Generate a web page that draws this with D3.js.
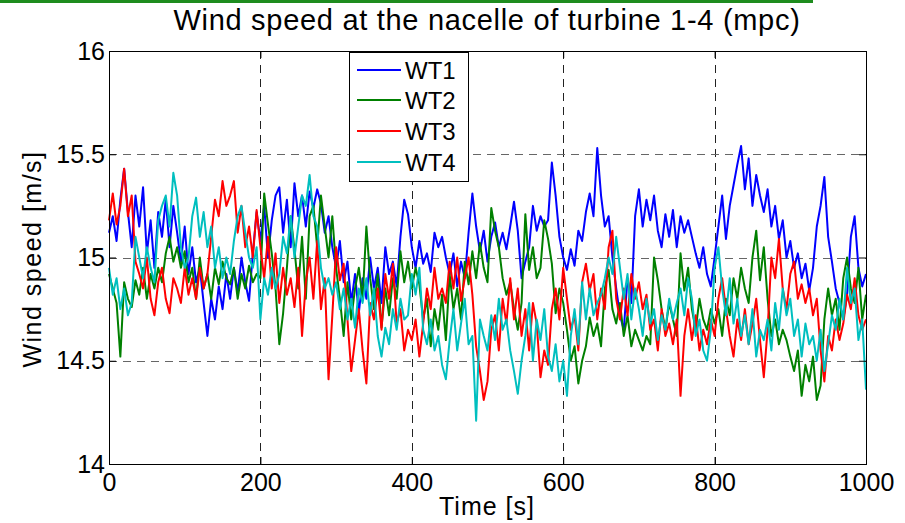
<!DOCTYPE html>
<html>
<head>
<meta charset="utf-8">
<script src="https://cdn.jsdelivr.net/npm/d3@7"></script>
<style>
  body { margin: 0; background: #fff; }
  svg { display: block; font-family: "Liberation Sans", Arial, sans-serif; }
</style>
</head>
<body>
<div id="chart"></div>
<script>
// time axis, 5 s steps
const STEP = 5;
const seriesNames = ['WT1', 'WT2', 'WT3', 'WT4'];
const seriesColors = ['#0000ff', '#008000', '#ff0000', '#00bfbf'];
const xTicks = [0, 200, 400, 600, 800, 1000];
const yTicks = [14, 14.5, 15, 15.5, 16];

const wt1 = [
  15.12, 15.20, 15.08, 15.28, 15.43, 15.22, 15.05, 15.30, 15.15, 15.34,
  15.02, 15.18, 14.95, 15.22, 15.10, 15.28, 15.05, 15.25, 15.12, 14.98,
  15.15, 14.92, 15.05, 14.88, 14.95, 14.78, 14.62, 14.80, 14.70, 14.86,
  14.75, 14.92, 14.80, 14.95, 14.83, 15.00, 14.88, 14.79, 15.02, 15.22,
  15.08, 15.25, 15.00, 15.18, 15.30, 15.34, 15.12, 15.28, 15.05, 15.36,
  15.20, 15.30, 15.15, 15.32, 15.24, 15.33, 15.26, 15.12, 15.20, 15.05,
  14.95, 15.08, 14.88, 14.98, 14.78, 14.92, 14.73, 14.90, 14.80, 15.00,
  14.85, 14.95, 14.78, 15.05, 14.92, 14.98, 14.86, 15.10, 15.28, 15.21,
  15.05, 14.95, 15.08, 14.97, 15.02, 14.93, 15.12, 15.05, 15.10, 15.00,
  14.92, 15.02, 14.86, 14.98, 14.90, 15.12, 15.31, 15.15, 15.03, 15.13,
  14.98, 15.10, 15.17, 15.05, 15.12, 15.04, 15.15, 15.27, 15.13, 14.90,
  14.98, 15.05, 15.25, 15.13, 15.20, 15.15, 15.18, 15.46, 15.30, 15.10,
  15.00, 14.94, 15.04, 14.96, 15.13, 15.08, 15.22, 15.31, 15.20, 15.53,
  15.30, 15.15, 15.20, 15.00, 14.85, 14.72, 14.65, 14.90, 14.78, 15.20,
  15.33, 15.15, 15.28, 15.18, 15.30, 15.13, 15.05, 15.21, 15.10, 15.23,
  15.05, 15.20, 15.12, 15.18, 15.10, 15.02, 14.95, 15.05, 14.92, 14.86,
  15.00, 15.15, 15.30, 15.09, 15.25, 15.35, 15.45, 15.54, 15.33, 15.48,
  15.25, 15.40, 15.30, 15.22, 15.33, 15.15, 15.25, 15.09, 15.18, 15.00,
  15.08, 14.95, 15.02, 14.90, 14.97, 14.84, 14.95, 15.15, 15.25, 15.39,
  15.10, 14.98, 14.85, 14.78, 14.70, 14.82, 15.10, 15.20, 14.95, 14.86,
  14.92
];

const wt2 = [
  14.92, 14.85, 14.78, 14.52, 14.88, 14.80, 14.76, 14.89, 14.82, 14.95,
  14.80, 14.92, 14.85, 14.95, 14.88, 15.02, 15.10, 14.98, 15.05, 14.95,
  15.03, 14.88, 14.95, 14.80, 15.00, 14.85, 14.92, 14.80, 14.95, 14.87,
  14.98, 14.90, 14.87, 14.95, 14.80, 14.92, 14.85, 14.96, 14.88, 14.92,
  14.90, 15.31, 15.16, 15.02, 14.85, 14.58, 14.73, 14.95, 15.20, 15.04,
  14.85, 15.10, 14.80, 15.20, 15.25, 15.05, 15.30, 15.15, 15.00, 15.20,
  14.95, 14.80, 14.62, 14.88, 14.70, 14.85, 14.95, 14.80, 15.15, 14.90,
  14.75, 14.92, 14.66, 14.85, 14.72, 14.90, 14.80, 15.03, 14.88, 14.98,
  14.85, 14.95, 14.87, 14.70, 14.80, 14.57, 14.75, 14.65, 14.82, 14.60,
  14.92, 14.75, 14.85, 14.70, 14.98, 14.87, 15.03, 14.90, 15.07, 14.95,
  14.88, 15.24, 15.13, 15.05, 14.90, 14.82, 14.88, 14.75, 14.65, 14.78,
  15.21, 14.94, 15.05, 14.90, 14.95, 15.18, 15.09, 14.97, 14.73, 14.85,
  14.78, 14.65, 14.50, 14.57, 14.39, 14.50, 14.57, 14.71, 14.62, 14.68,
  14.57, 14.85, 14.94, 14.75, 14.68, 14.78, 14.62, 14.72, 14.57, 14.65,
  14.60, 14.55, 14.62, 14.58, 15.00, 14.89, 14.75, 14.65, 14.78, 14.70,
  14.62, 15.02, 14.84, 14.95, 14.75, 14.65, 14.80, 14.70, 14.65, 14.75,
  14.68, 14.75, 14.62, 14.80, 14.72, 14.90, 14.80, 14.95, 14.85, 14.78,
  15.00, 15.13, 14.89, 15.05, 14.80, 14.62, 14.70, 14.58, 14.65, 14.60,
  14.52, 14.45, 14.55, 14.33, 14.48, 14.40, 14.52, 14.31, 14.38, 14.70,
  14.85, 14.72, 14.80, 14.65, 14.90, 15.00, 14.85, 14.78, 14.95, 14.70,
  14.82
];

const wt3 = [
  15.18, 15.31, 15.16, 15.25, 15.43, 15.20, 15.30, 14.98, 14.92, 14.85,
  15.00, 14.80, 14.72, 14.88, 14.95, 14.80, 14.73, 14.90, 14.85, 14.78,
  14.95, 14.82, 14.90, 14.80, 14.95, 14.85, 14.92, 15.10, 15.28, 15.20,
  15.37, 15.25, 15.30, 15.37, 15.12, 15.25, 15.05, 15.15, 15.00, 15.23,
  15.05, 14.90, 15.10, 14.85, 15.02, 14.78, 14.95, 14.82, 14.90, 14.76,
  14.95, 14.62, 14.88, 15.00, 14.80, 15.08, 14.75, 14.90, 14.41, 14.72,
  15.05, 14.89, 14.97, 14.70, 14.45, 14.60, 14.75, 14.55, 14.39, 14.78,
  14.70, 14.85, 14.65, 14.92, 14.80, 14.97, 14.68, 14.75, 14.55, 14.65,
  14.60, 14.70, 14.52, 14.68, 14.85, 14.75, 14.95, 14.80, 14.85, 14.78,
  14.98, 14.85, 15.00, 14.79, 14.90, 15.00, 14.82, 14.57, 14.45, 14.31,
  14.40, 14.65, 14.72, 14.55, 14.80, 14.68, 14.90, 14.70, 14.85, 14.62,
  14.75, 14.55, 14.78, 14.68, 14.42, 14.55, 14.48, 14.75, 14.85, 14.70,
  14.95, 14.80, 14.65, 14.72, 14.55, 14.88, 14.97, 14.84, 14.92, 14.70,
  14.85, 14.75, 15.05, 15.13, 14.80, 14.70, 14.85, 14.72, 14.92, 14.80,
  14.88, 14.75, 14.82, 14.65, 14.70, 14.55, 14.75, 14.62, 14.68, 14.58,
  14.70, 14.33, 14.62, 14.75, 14.60, 14.72, 14.55, 14.65, 14.58, 14.70,
  14.62, 14.80, 14.90, 14.75, 14.62, 14.52, 14.70, 14.60, 14.75, 14.58,
  14.68, 14.80, 14.60, 14.42, 14.65, 15.00, 14.90, 15.09, 14.85, 14.75,
  14.92, 14.98, 14.80, 14.87, 14.78, 14.85, 14.72, 14.80, 14.55, 14.40,
  14.62, 14.55, 14.70, 14.60, 14.68, 14.82, 14.75, 14.90, 14.72, 14.65,
  14.70
];

const wt4 = [
  14.95, 14.82, 14.90, 14.75, 14.85, 14.72, 14.78, 15.10, 15.00, 14.90,
  15.05, 14.95, 14.88, 15.18, 15.25, 15.30, 15.15, 15.41, 15.30, 15.05,
  14.95, 15.00, 15.20, 15.29, 15.10, 15.22, 15.05, 15.15, 14.95, 15.05,
  14.90, 15.00, 14.92, 15.08, 15.20, 15.25, 15.12, 15.00, 14.95, 15.05,
  14.70, 14.90, 14.82, 14.95, 14.85, 14.92, 15.10, 15.02, 15.20, 15.00,
  15.15, 15.30, 15.25, 15.40, 15.20, 15.15, 14.95, 14.85, 14.90, 14.82,
  14.88, 14.75, 14.85, 14.70, 14.80, 14.66, 14.85, 14.78, 14.90, 14.72,
  14.85, 14.62, 14.52, 14.66, 14.58, 14.75, 14.65, 14.80, 14.70, 14.72,
  14.92, 14.82, 14.95, 14.65, 14.58, 14.70, 14.55, 14.62, 14.48, 14.41,
  14.60, 14.75, 14.55, 14.68, 14.80, 14.58, 14.62, 14.21, 14.70, 14.62,
  14.55, 14.72, 14.60, 14.80, 14.65, 14.70, 14.55, 14.45, 14.34, 14.50,
  14.62, 14.78, 14.50, 14.70, 14.60, 14.75, 14.52, 14.45, 14.58, 14.40,
  14.50, 14.33, 14.62, 14.75, 14.58, 14.88, 14.70, 14.85, 14.72, 14.78,
  14.82, 14.90, 15.00, 14.92, 15.10, 14.95, 14.80, 14.92, 14.70, 14.85,
  14.75, 14.62, 14.80, 14.68, 14.75, 14.60, 14.72, 14.65, 14.80, 14.70,
  14.78, 14.85, 14.72, 14.90, 14.80, 14.62, 14.70, 14.55, 14.50, 14.65,
  14.95, 15.05, 14.85, 14.72, 14.90, 14.68, 14.80, 14.62, 14.72, 14.58,
  14.75, 14.52, 14.65, 14.60, 14.70, 14.55, 14.78, 14.65, 14.85, 14.72,
  14.80, 14.62, 14.70, 14.52, 14.68, 14.58, 14.62, 14.50, 14.65, 14.45,
  14.58, 14.72, 14.65, 14.80, 14.70, 14.95, 14.78, 14.85, 14.60, 14.70,
  14.36
];

const allSeries = [wt1, wt2, wt3, wt4];

const W = 905, H = 523;
const plot = { left: 109, right: 866, top: 51, bottom: 464 };

const svg = d3.select('#chart').append('svg')
  .attr('width', W)
  .attr('height', H);

svg.append('rect').attr('width', W).attr('height', H).attr('fill', '#fff');

// green header bar from the slide
svg.append('line')
  .attr('x1', 0).attr('x2', 813)
  .attr('y1', 1.5).attr('y2', 1.5)
  .attr('stroke', '#1e8c1e')
  .attr('stroke-width', 3);

const x = d3.scaleLinear().domain([0, 1000]).range([plot.left, plot.right]);
const y = d3.scaleLinear().domain([14, 16]).range([plot.bottom, plot.top]);

// grid
const grid = svg.append('g')
  .attr('stroke-dasharray', '8,6')
  .attr('stroke-width', 1)
  .attr('fill', 'none');

grid.selectAll('line.vx')
  .data(xTicks.slice(1, -1))
  .enter().append('line')
  .attr('x1', d => Math.round(x(d)) + 0.5)
  .attr('x2', d => Math.round(x(d)) + 0.5)
  .attr('y1', plot.top)
  .attr('y2', plot.bottom)
  .attr('stroke', '#222');

grid.selectAll('line.hy')
  .data(yTicks.slice(1, -1))
  .enter().append('line')
  .attr('x1', plot.left)
  .attr('x2', plot.right)
  .attr('y1', d => Math.round(y(d)) + 0.5)
  .attr('y2', d => Math.round(y(d)) + 0.5)
  .attr('stroke', '#666');

// series
const line = d3.line()
  .x((d, i) => x(i * STEP))
  .y(d => y(d));

svg.append('g').selectAll('path')
  .data(allSeries)
  .enter().append('path')
  .attr('d', d => line(d))
  .attr('fill', 'none')
  .attr('stroke', (d, i) => seriesColors[i])
  .attr('stroke-width', 2)
  .attr('stroke-linejoin', 'round');

// axes (ticks inward, MATLAB style)
const fs = 25;
const styleAxis = g => {
  g.select('.domain').remove();
  g.selectAll('.tick line').attr('stroke', '#000');
  g.selectAll('.tick text').attr('font-size', fs).attr('fill', '#000')
    .attr('font-family', '"Liberation Sans", Arial, sans-serif');
};

svg.append('g')
  .attr('transform', `translate(0,${plot.bottom})`)
  .call(d3.axisBottom(x).tickValues(xTicks).tickSize(-7).tickPadding(9)
    .tickFormat(d3.format('d')))
  .call(styleAxis);

svg.append('g')
  .attr('transform', `translate(0,${plot.top})`)
  .call(d3.axisTop(x).tickValues(xTicks).tickSize(-7).tickFormat(''))
  .call(styleAxis);

svg.append('g')
  .attr('transform', `translate(${plot.left},0)`)
  .call(d3.axisLeft(y).tickValues(yTicks).tickSize(-7).tickPadding(4)
    .tickFormat(d3.format('')))
  .call(styleAxis);

svg.append('g')
  .attr('transform', `translate(${plot.right},0)`)
  .call(d3.axisRight(y).tickValues(yTicks).tickSize(-7).tickFormat(''))
  .call(styleAxis);

// box
svg.append('rect')
  .attr('x', plot.left + 0.5)
  .attr('y', plot.top + 0.5)
  .attr('width', plot.right - plot.left)
  .attr('height', plot.bottom - plot.top)
  .attr('fill', 'none')
  .attr('stroke', '#000')
  .attr('stroke-width', 1);

// title and axis labels
svg.append('text')
  .attr('x', 487)
  .attr('y', 30)
  .attr('text-anchor', 'middle')
  .attr('font-size', 29)
  .attr('letter-spacing', 0.7)
  .text('Wind speed at the nacelle of turbine 1-4 (mpc)');

svg.append('text')
  .attr('x', 487)
  .attr('y', 515)
  .attr('text-anchor', 'middle')
  .attr('font-size', fs)
  .attr('letter-spacing', 1)
  .text('Time [s]');

svg.append('text')
  .attr('transform', `translate(41,259) rotate(-90)`)
  .attr('text-anchor', 'middle')
  .attr('font-size', fs)
  .attr('letter-spacing', 1.5)
  .text('Wind speed [m/s]');

// legend
const legend = svg.append('g');
legend.append('rect')
  .attr('x', 349.5).attr('y', 52.5)
  .attr('width', 119).attr('height', 129)
  .attr('fill', '#fff')
  .attr('stroke', '#000');

const rowY = [70, 100, 131, 162];
seriesNames.forEach((name, i) => {
  legend.append('line')
    .attr('x1', 357).attr('x2', 401)
    .attr('y1', rowY[i]).attr('y2', rowY[i])
    .attr('stroke', seriesColors[i])
    .attr('stroke-width', 2);
  legend.append('text')
    .attr('x', 405)
    .attr('y', rowY[i] + 9)
    .attr('font-size', 24)
    .text(name);
});
</script>
</body>
</html>
